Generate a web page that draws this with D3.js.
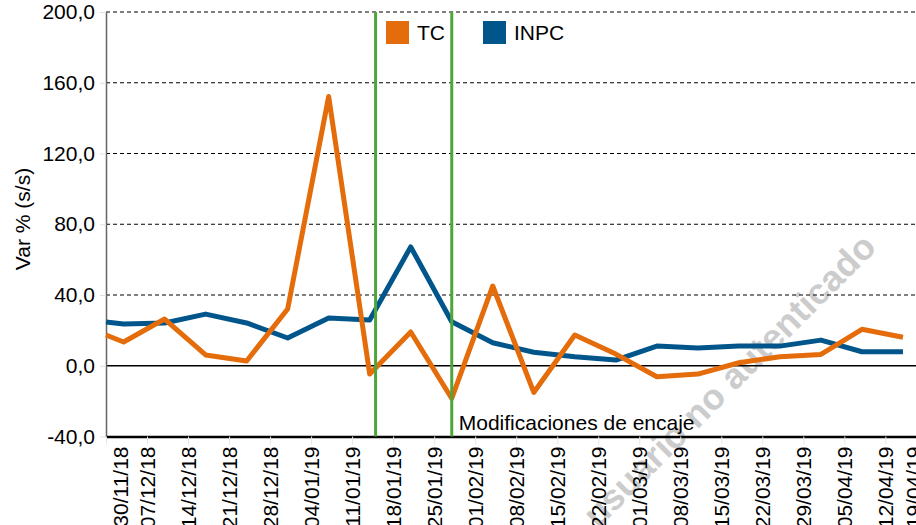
<!DOCTYPE html>
<html>
<head>
  <meta charset="utf-8">
  <title>TC vs INPC</title>
  <script src="https://d3js.org/d3.v7.min.js"></script>
  <style>
    body {
      margin: 0;
      padding: 0;
      background: #fff;
      overflow: hidden;
    }
    svg text {
      font-family: "Liberation Sans", Arial, sans-serif;
      font-size: 21px;
      fill: #000;
    }
    .grid line {
      stroke: #000;
      stroke-width: 1;
      stroke-dasharray: 4,3;
    }
  </style>
</head>
<body>

  <div id="chart"></div>

  <script>
    // data (weekly, var % s/s)
    var dates = ["30/11/18", "03/12/18", "10/12/18", "17/12/18", "24/12/18", "31/12/18",
                 "07/01/19", "14/01/19", "21/01/19", "28/01/19", "04/02/19", "11/02/19",
                 "18/02/19", "25/02/19", "04/03/19", "11/03/19", "18/03/19", "25/03/19",
                 "01/04/19", "08/04/19", "15/04/19"];
    var tc   = [17.4, 13.4, 26.4, 6.1, 2.7, 32.1, 152.2, -4.7, 19.1, -18.5, 45.1,
                -15.1, 17.4, 6.6, -6.2, -4.7, 1.7, 5.1, 6.4, 20.6, 16.1];
    var inpc = [24.7, 23.6, 24.2, 29.2, 24.2, 15.7, 27.0, 25.9, 67.2, 24.9, 13.0,
                7.6, 5.1, 3.2, 11.1, 10.0, 11.1, 11.1, 14.5, 7.9, 7.9];

    // x tick labels (fridays)
    var tickDates = ["30/11/18", "07/12/18", "14/12/18", "21/12/18", "28/12/18", "04/01/19",
                     "11/01/19", "18/01/19", "25/01/19", "01/02/19", "08/02/19", "15/02/19",
                     "22/02/19", "01/03/19", "08/03/19", "15/03/19", "22/03/19", "29/03/19",
                     "05/04/19", "12/04/19", "19/04/19"];
    var yTicks = [-40, 0, 40, 80, 120, 160, 200];

    // vertical markers
    var markers = ["15/01/19", "28/01/19"];
    var markerLabel = "Modificaciones de encaje";

    var seriesNames = ["TC", "INPC"];
    var colors = {TC: "#e46c0a", INPC: "#00558b"};

    var parse = d3.utcParse("%d/%m/%y");
    var fmt = d3.utcFormat("%d/%m/%y");

    var width = 916, height = 525;
    var plotLeft = 106, plotTop = 12, plotBottom = 436.5;

    var svg = d3.select("#chart")
      .append("svg")
        .attr("width", width)
        .attr("height", height);

    var x = d3.scaleUtc()
        .domain([parse("30/11/18"), parse("20/04/19")])
        .range([plotLeft, plotLeft + 141 * 5.86]);

    var y = d3.scaleLinear()
        .domain([-40, 200])
        .range([plotBottom, plotTop]);

    // watermark behind everything
    svg.append("text")
        .attr("transform", "translate(729,380) rotate(-45)")
        .attr("text-anchor", "middle")
        .attr("dy", "0.35em")
        .style("font-size", "36px")
        .style("font-weight", "bold")
        .style("fill", "#cccccc")
        .text("usuario no autenticado");

    // grid lines
    svg.append("g")
        .attr("class", "grid")
      .selectAll("line")
        .data(yTicks.filter(function(d) { return d > 0; }))
      .enter().append("line")
        .attr("x1", plotLeft)
        .attr("x2", width)
        .attr("y1", function(d) { return y(d); })
        .attr("y2", function(d) { return y(d); });

    svg.append("line")
        .attr("x1", plotLeft).attr("x2", width)
        .attr("y1", y(0)).attr("y2", y(0))
        .attr("stroke", "#000")
        .attr("stroke-width", 1.5);

    // Y axis
    var yAxis = svg.append("g")
        .attr("transform", "translate(" + plotLeft + ",0)")
        .call(d3.axisLeft(y)
          .tickValues(yTicks)
          .tickSize(6)
          .tickSizeOuter(0)
          .tickPadding(5)
          .tickFormat(function(d) { return d3.format(".1f")(d).replace(".", ",").replace("\u2212", "-"); }));
    yAxis.select(".domain").attr("stroke", "#666").attr("stroke-width", 1.5);
    yAxis.selectAll(".tick line").attr("stroke", "#e0e0e0");
    yAxis.selectAll("text").style("font-size", "21px");

    // X axis
    var nTicks = tickDates.length;
    var xAxis = svg.append("g")
        .attr("transform", "translate(0," + plotBottom + ")")
        .call(d3.axisBottom(x)
          .tickValues(tickDates.map(parse))
          .tickSize(8)
          .tickSizeOuter(0)
          .tickFormat(fmt));
    xAxis.select(".domain").attr("stroke", "#000").attr("stroke-width", 2.5);
    xAxis.selectAll(".tick line").attr("stroke", "#e6e6e6");
    xAxis.selectAll("text")
        .attr("transform", function(d, i) {
          // first and last labels are nudged inside the frame
          var shift = i === 0 ? 14 : (i === nTicks - 1 ? -13 : 0);
          return "translate(" + shift + ",0) rotate(-90)";
        })
        .attr("x", -10)
        .attr("y", 0)
        .attr("dy", "0.35em")
        .style("text-anchor", "end")
        .style("font-size", "21px");

    // y axis title
    svg.append("text")
        .attr("transform", "translate(23,219) rotate(-90)")
        .attr("text-anchor", "middle")
        .attr("dy", "0.35em")
        .text("Var % (s/s)");

    // lines
    var line = d3.line()
        .x(function(d) { return x(d.date); })
        .y(function(d) { return y(d.value); });

    var series = {
      TC: dates.map(function(d, i) { return {date: parse(d), value: tc[i]}; }),
      INPC: dates.map(function(d, i) { return {date: parse(d), value: inpc[i]}; })
    };

    ["INPC", "TC"].forEach(function(name) {
      svg.append("path")
          .datum(series[name])
          .attr("fill", "none")
          .attr("stroke", colors[name])
          .attr("stroke-width", 5)
          .attr("stroke-linejoin", "round")
          .attr("d", line);
    });

    // green markers
    svg.selectAll(".marker")
        .data(markers)
      .enter().append("line")
        .attr("class", "marker")
        .attr("x1", function(d) { return x(parse(d)); })
        .attr("x2", function(d) { return x(parse(d)); })
        .attr("y1", plotTop)
        .attr("y2", plotBottom)
        .attr("stroke", "#4ea63a")
        .attr("stroke-width", 3);

    svg.append("text")
        .attr("x", x(parse(markers[1])) + 7)
        .attr("y", 430)
        .text(markerLabel);

    // legend
    var legend = svg.append("g")
        .attr("transform", "translate(386,21)");
    var lg = legend.selectAll("g")
        .data(seriesNames)
      .enter().append("g")
        .attr("transform", function(d, i) { return "translate(" + (i * 97) + ",0)"; });
    lg.append("rect")
        .attr("width", 23)
        .attr("height", 23)
        .attr("fill", function(d) { return colors[d]; });
    lg.append("text")
        .attr("x", 31)
        .attr("y", 19)
        .text(function(d) { return d; });
  </script>

</body>
</html>
